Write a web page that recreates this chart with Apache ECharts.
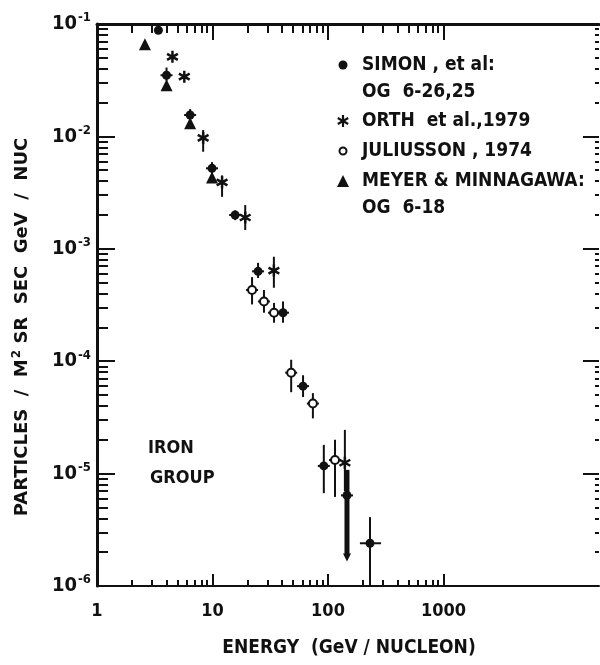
<!DOCTYPE html>
<html>
<head>
<meta charset="utf-8">
<script src="https://cdn.jsdelivr.net/npm/echarts@6/dist/echarts.min.js"></script>
<style>
html, body { margin: 0; padding: 0; background: #fff; }
#chart { width: 600px; height: 665px; }
</style>
</head>
<body>
<div id="chart"></div>
<script>
// energy (GeV/nucleon), flux, flux low, flux high [, energy low, energy high]
var simon = [
    [3.4, 0.088],
    [4.0, 0.035, 0.031, 0.041],
    [6.4, 0.0155, 0.0138, 0.0175],
    [9.9, 0.0052, 0.0046, 0.0059],
    [15.7, 0.0020, 0.0018, 0.0022],
    [24.8, 0.00063, 0.00055, 0.00075],
    [40.8, 0.00027, 0.00022, 0.00034],
    [60.8, 6.0e-5, 4.8e-5, 7.5e-5],
    [92, 1.17e-5, 6.7e-6, 1.8e-5],
    [231, 2.4e-6, 1.0e-6, 4.1e-6, 189, 288]
];
// upper limit drawn with arrow
var simonLimit = [
    [146, 6.4e-6, 1.65e-6, 1.08e-5]
];
var orth = [
    [4.5, 0.051],
    [5.7, 0.034],
    [8.3, 0.0097, 0.0073, 0.0114],
    [12.1, 0.0039, 0.0029, 0.0045],
    [19.2, 0.0019, 0.00147, 0.00245],
    [34, 0.00064, 0.00045, 0.00085],
    [140, 1.25e-5, 7e-6, 2.45e-5]
];
var juliusson = [
    [22, 0.00043, 0.00032, 0.00056],
    [27.9, 0.00034, 0.00027, 0.00043],
    [34.1, 0.00027, 0.00022, 0.00033],
    [48, 7.9e-5, 5.3e-5, 1.03e-4],
    [74, 4.2e-5, 3.1e-5, 5.2e-5],
    [115, 1.32e-5, 6.2e-6, 2.0e-5]
];
var meyer = [
    [2.6, 0.066],
    [4.0, 0.0285],
    [6.4, 0.0131],
    [9.9, 0.0043]
];
var xLabels = [1, 10, 100, 1000];
var yLabels = [1e-6, 1e-5, 1e-4, 1e-3, 1e-2, 1e-1];

var FONT = '"DejaVu Sans Condensed", "DejaVu Sans", sans-serif';
var WIDE = '"DejaVu Sans", sans-serif';
var INK = '#111';
var X_MAX = 22200;
var DIMS = ['e', 'f', 'lo', 'hi', 'elo', 'ehi'];

function minorTicks(from, to) {
    var t = [];
    for (var p = from; p < to; p++) {
        for (var k = 2; k <= 9; k++) t.push(+(k * Math.pow(10, p)).toPrecision(3));
    }
    return t;
}
function majorTicks(from, to) {
    var t = [];
    for (var p = from; p <= to; p++) t.push(+Math.pow(10, p).toPrecision(3));
    return t;
}

var xMajor = majorTicks(1, 3);
var xMinor = minorTicks(0, 3);
var yMajor = majorTicks(-5, -2);
var yMinor = minorTicks(-6, -1);

function xAxis(pos, ticks, len, lineWidth, labels) {
    return {
        type: 'log', logBase: 10, min: 1, max: X_MAX, position: pos,
        axisLine: { show: lineWidth > 0, lineStyle: { color: INK, width: lineWidth } },
        axisTick: { show: true, inside: true, length: len, customValues: ticks, lineStyle: { color: INK, width: 2 } },
        axisLabel: labels ? {
            show: true, customValues: labels, margin: 16, color: INK,
            formatter: function (v) { return String(Math.round(v)); },
            fontFamily: FONT, fontSize: 18, fontWeight: 'bold'
        } : { show: false },
        splitLine: { show: false }
    };
}
function yAxis(pos, ticks, len, lineWidth, labels) {
    return {
        type: 'log', logBase: 10, min: 1e-6, max: 0.1, position: pos,
        axisLine: { show: lineWidth > 0, lineStyle: { color: INK, width: lineWidth } },
        axisTick: { show: true, inside: true, length: len, customValues: ticks, lineStyle: { color: INK, width: 2 } },
        axisLabel: labels ? {
            show: true, customValues: labels, margin: 6, color: INK,
            formatter: function (v) { return '{a|10}{b|' + Math.round(Math.log10(v)) + '}'; },
            rich: {
                a: { fontFamily: FONT, fontSize: 20, fontWeight: 'bold', color: INK },
                b: { fontFamily: FONT, fontSize: 13, fontWeight: 'bold', color: INK, padding: [0, 0, 12, 1] }
            }
        } : { show: false },
        splitLine: { show: false }
    };
}

function errorBars(lineWidth, cross) {
    return function (params, api) {
        var e = api.value(0), f = api.value(1), lo = api.value(2), hi = api.value(3);
        var eLo = api.value(4), eHi = api.value(5);
        var c = api.coord([e, f]);
        var kids = [];
        var st = { stroke: INK, lineWidth: lineWidth };
        if (lo > 0 && hi > 0) {
            var a = api.coord([e, hi]), b = api.coord([e, lo]);
            kids.push({ type: 'line', shape: { x1: c[0], y1: a[1], x2: c[0], y2: b[1] }, style: st });
        }
        if (eLo > 0 && eHi > 0) {
            var l = api.coord([eLo, f]), r = api.coord([eHi, f]);
            kids.push({ type: 'line', shape: { x1: l[0], y1: c[1], x2: r[0], y2: c[1] }, style: st });
        } else if (cross > 0 && lo > 0) {
            kids.push({ type: 'line', shape: { x1: c[0] - cross, y1: c[1], x2: c[0] + cross, y2: c[1] }, style: st });
        }
        return { type: 'group', children: kids };
    };
}

function limitArrow(params, api) {
    var e = api.value(0), lo = api.value(2), hi = api.value(3);
    var a = api.coord([e, hi]), b = api.coord([e, lo]);
    var c = api.coord([e, api.value(1)]);
    return {
        type: 'group',
        children: [
            { type: 'line', shape: { x1: a[0], y1: a[1], x2: b[0], y2: b[1] - 6 }, style: { stroke: INK, lineWidth: 5 } },
            { type: 'polygon', shape: { points: [[b[0] - 4, b[1] - 8], [b[0] + 4, b[1] - 8], [b[0], b[1]]] }, style: { fill: INK } },
            { type: 'line', shape: { x1: c[0] - 6, y1: c[1], x2: c[0] + 6, y2: c[1] }, style: { stroke: INK, lineWidth: 2 } }
        ]
    };
}

var STAR = 'path://M-1,-5L1,-5L1,5L-1,5Z M3.83,-3.37L4.83,-1.63L-3.83,3.37L-4.83,1.63Z M-4.83,-1.63L-3.83,-3.37L4.83,1.63L3.83,3.37Z';

function pts(arr) { return arr.map(function (d) { return [d[0], d[1]]; }); }

function starIcon(cx, cy, r) {
    var kids = [];
    [90, 30, -30].forEach(function (deg) {
        var a = deg * Math.PI / 180;
        kids.push({
            type: 'line',
            shape: { x1: cx - r * Math.cos(a), y1: cy - r * Math.sin(a), x2: cx + r * Math.cos(a), y2: cy + r * Math.sin(a) },
            style: { stroke: INK, lineWidth: 2.2 }
        });
    });
    return { type: 'group', children: kids };
}

var chart = echarts.init(document.getElementById('chart'));

var legendItems = [
    { sym: 'dot', y: 65, lines: ['SIMON , et al:', 'OG  6-26,25'] },
    { sym: 'star', y: 121, lines: ['ORTH  et al.,1979'] },
    { sym: 'ring', y: 151, lines: ['JULIUSSON , 1974'] },
    { sym: 'tri', y: 181, lines: ['MEYER & MINNAGAWA:', 'OG  6-18'] }
];
var graphics = [];
legendItems.forEach(function (it) {
    var icon;
    if (it.sym === 'dot') icon = { type: 'circle', shape: { cx: 343, cy: it.y, r: 4.5 }, style: { fill: INK } };
    if (it.sym === 'ring') icon = { type: 'circle', shape: { cx: 343, cy: it.y, r: 3.5 }, style: { fill: '#fff', stroke: INK, lineWidth: 2 } };
    if (it.sym === 'tri') icon = { type: 'polygon', shape: { points: [[337, it.y + 6], [349, it.y + 6], [343, it.y - 6]] }, style: { fill: INK } };
    if (it.sym === 'star') icon = starIcon(343, it.y, 6);
    graphics.push(icon);
    it.lines.forEach(function (txt, i) {
        graphics.push({
            type: 'text', x: 362, y: it.y + i * 27,
            style: { text: txt, fill: INK, font: 'bold 19px ' + FONT, verticalAlign: 'middle', align: 'left' }
        });
    });
});
graphics.push({
    type: 'text', x: 148, y: 448,
    style: { text: 'IRON', fill: INK, font: 'bold 18px ' + FONT, verticalAlign: 'middle' }
});
graphics.push({
    type: 'text', x: 150, y: 478,
    style: { text: 'GROUP', fill: INK, font: 'bold 18px ' + FONT, verticalAlign: 'middle' }
});
graphics.push({
    type: 'text', x: 349, y: 648,
    style: { text: 'ENERGY  (GeV / NUCLEON)', fill: INK, font: 'bold 19px ' + FONT, align: 'center', verticalAlign: 'middle' }
});
graphics.push({
    type: 'text', x: 22, y: 327, rotation: Math.PI / 2,
    style: {
        text: '{t|PARTICLES  /  M}{s|2}{t| SR  SEC  GeV  /  NUC}',
        align: 'center', verticalAlign: 'middle',
        rich: {
            t: { fontFamily: WIDE, fontSize: 18, fontWeight: 'bold', fill: INK },
            s: { fontFamily: WIDE, fontSize: 12, fontWeight: 'bold', fill: INK, padding: [0, 0, 10, 1] }
        }
    }
});

function bars(name, renderItem, data) {
    return { type: 'custom', name: name, renderItem: renderItem, data: data, dimensions: DIMS, encode: { x: 0, y: 1 }, z: 2 };
}

chart.setOption({
    backgroundColor: '#fff',
    animation: false,
    grid: { left: 97, right: 1, top: 24, bottom: 79 },
    xAxis: [
        xAxis('bottom', xMajor, 12, 2, xLabels),
        xAxis('bottom', xMinor, 6, 0),
        xAxis('top', xMajor, 16, 3),
        xAxis('top', xMinor, 9, 0)
    ],
    yAxis: [
        yAxis('left', yMajor, 18, 3, yLabels),
        yAxis('left', yMinor, 11, 0),
        yAxis('right', yMajor, 16, 0),
        yAxis('right', yMinor, 4, 0)
    ],
    graphic: graphics,
    series: [
        bars('simon bars', errorBars(2, 6), simon),
        bars('simon limit', limitArrow, simonLimit),
        bars('orth bars', errorBars(2, 0), orth),
        bars('juliusson bars', errorBars(2, 6), juliusson),
        {
            type: 'scatter', name: 'SIMON, et al: OG 6-26,25', data: pts(simon).concat(pts(simonLimit)),
            symbol: 'circle', symbolSize: 9, itemStyle: { color: INK, opacity: 1 }, z: 3
        },
        {
            type: 'scatter', name: 'ORTH et al., 1979', data: pts(orth),
            symbol: STAR, symbolSize: 12, itemStyle: { color: INK, opacity: 1 }, z: 3
        },
        {
            type: 'scatter', name: 'JULIUSSON, 1974', data: pts(juliusson),
            symbol: 'circle', symbolSize: 8, itemStyle: { color: '#fff', borderColor: INK, borderWidth: 2, opacity: 1 }, z: 3
        },
        {
            type: 'scatter', name: 'MEYER & MINNAGAWA: OG 6-18', data: pts(meyer),
            symbol: 'triangle', symbolSize: 12, itemStyle: { color: INK, opacity: 1 }, z: 3
        }
    ]
});
</script>
</body>
</html>
